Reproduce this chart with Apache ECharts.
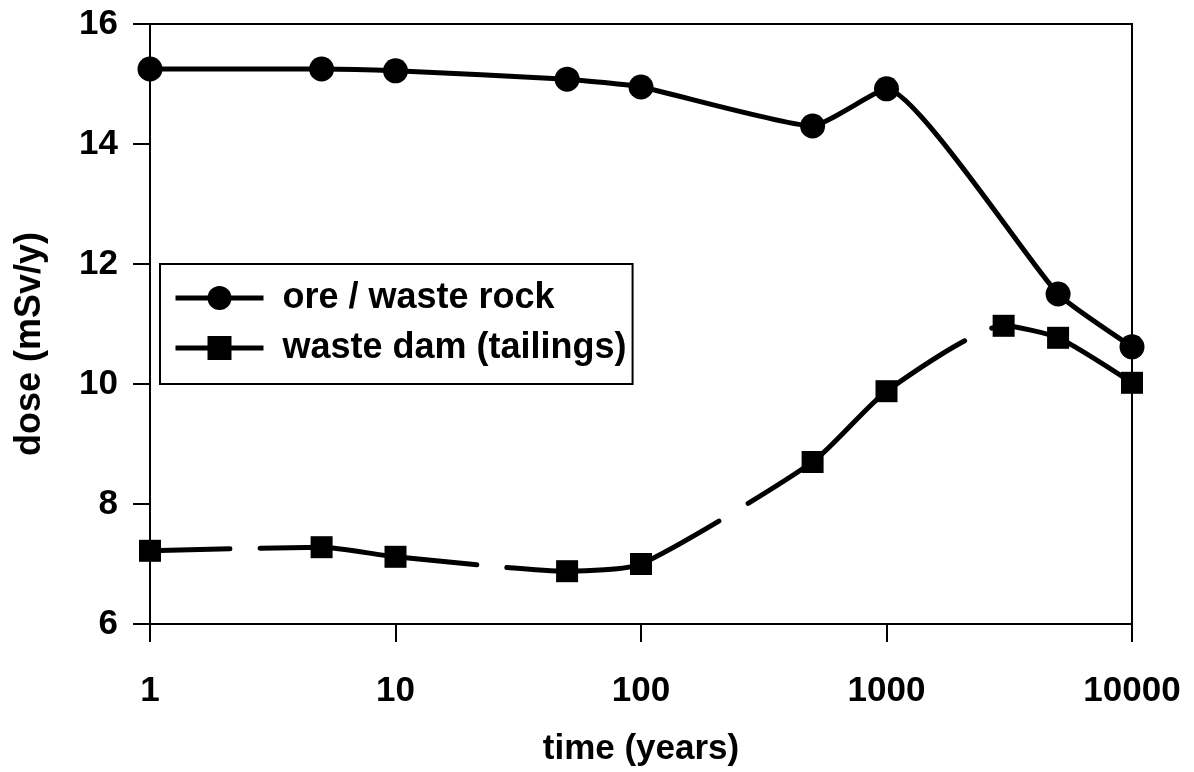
<!DOCTYPE html>
<html><head><meta charset="utf-8">
<script src="https://cdn.jsdelivr.net/npm/echarts@6/dist/echarts.min.js"></script>
<style>html,body{margin:0;padding:0;background:#fff}#c{width:1194px;height:772px}</style>
</head><body><div id="c"></div>
<script>
const oreTime = [1, 5, 10, 50, 100, 500, 1000, 5000, 10000];
const oreDose = [15.25, 15.25, 15.22, 15.08, 14.95, 14.3, 14.92, 11.5, 10.62];
const damTime = [1, 5, 10, 50, 100, 500, 1000, 3000, 5000, 10000];
const damDose = [7.22, 7.28, 7.12, 6.88, 7.0, 8.7, 9.88, 10.97, 10.77, 10.02];
const seriesNames = ['ore / waste rock', 'waste dam (tailings)'];
const xTitle = 'time (years)';
const yTitle = 'dose (mSv/y)';

const font = 'Liberation Sans, Arial, sans-serif';
const legendLine = {type: 'solid', width: 5, color: '#000', dashOffset: 0, cap: 'butt'};
const chart = echarts.init(document.getElementById('c'), null, {renderer: 'canvas'});
chart.setOption({
  backgroundColor: '#fff',
  animation: false,
  grid: {left: 150, right: 62, top: 24, bottom: 147, show: true, borderColor: '#000', borderWidth: 2, backgroundColor: 'transparent'},
  legend: {
    orient: 'vertical', left: 160, top: 264,
    backgroundColor: '#fff', borderColor: '#000', borderWidth: 2,
    padding: [16, 6, 18, 13],
    itemWidth: 88, itemHeight: 30, itemGap: 14,
    lineStyle: legendLine,
    itemStyle: {color: '#000'},
    textStyle: {fontFamily: font, fontSize: 36, fontWeight: 'bold', color: '#000', padding: [0, 0, 0, 14]},
    data: seriesNames.map(n => ({name: n, lineStyle: legendLine}))
  },
  xAxis: {
    type: 'log', logBase: 10, min: 1, max: 10000,
    name: xTitle, nameLocation: 'middle', nameGap: 108,
    nameTextStyle: {fontFamily: font, fontSize: 35, fontWeight: 'bold', color: '#000'},
    axisLine: {lineStyle: {color: '#000', width: 2}},
    axisTick: {show: true, length: 18, lineStyle: {color: '#000', width: 2}},
    minorTick: {show: false},
    splitLine: {show: false},
    axisLabel: {fontFamily: font, fontSize: 35, fontWeight: 'bold', color: '#000', margin: 50,
      formatter: v => String(Math.round(v))}
  },
  yAxis: {
    type: 'value', min: 6, max: 16, interval: 2,
    name: yTitle, nameLocation: 'middle', nameGap: 102,
    nameTextStyle: {fontFamily: font, fontSize: 36, fontWeight: 'bold', color: '#000', padding: [0, 40, 0, 0]},
    axisLine: {show: true, lineStyle: {color: '#000', width: 2}},
    axisTick: {show: true, length: 17, lineStyle: {color: '#000', width: 2}},
    splitLine: {show: false},
    axisLabel: {fontFamily: font, fontSize: 35, fontWeight: 'bold', color: '#000', margin: 32}
  },
  series: [
    {
      name: seriesNames[0], type: 'line', smooth: 0.15,
      data: oreTime.map((t, i) => [t, oreDose[i]]),
      symbol: 'circle', symbolSize: 25,
      itemStyle: {color: '#000'},
      lineStyle: {color: '#000', width: 5}
    },
    {
      name: seriesNames[1], type: 'line', smooth: 0.2,
      data: damTime.map((t, i) => [t, damDose[i]]),
      symbol: 'rect', symbolSize: 22,
      itemStyle: {color: '#000'},
      lineStyle: {color: '#000', width: 5, cap: 'round',
        type: [80, 30, 218, 30, 224, 34, 272, 30, 2000]}
    }
  ]
});
</script></body></html>
